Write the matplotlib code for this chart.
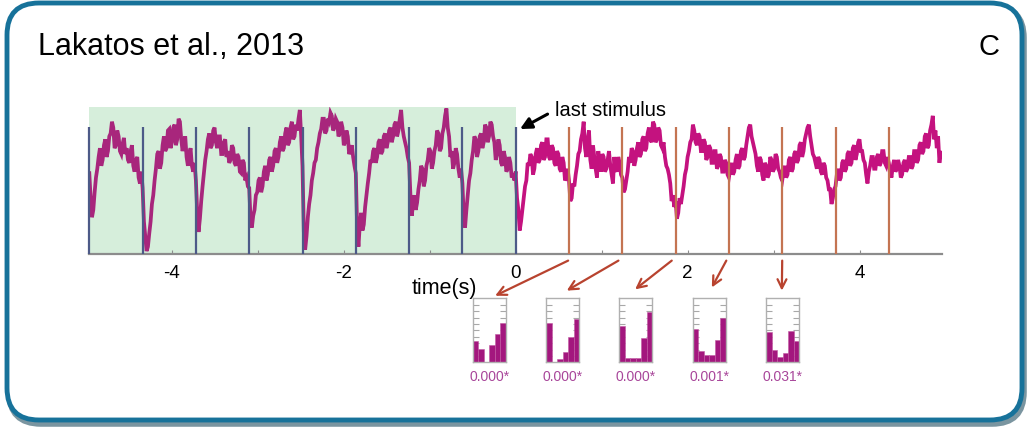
import numpy as np
import matplotlib.pyplot as plt
from matplotlib.patches import FancyBboxPatch, ConnectionPatch

plt.rcParams['font.family'] = ['Liberation Sans', 'DejaVu Sans']

# ---- data ----
t_start, t_end = -4.96, 4.96   # s, visible span
soa = 0.62                     # s between stimuli
n_stim_pre = 9                 # stimuli from -4.96 s up to the last one at 0
n_stim_post = 7                # omitted-stimulus times after 0

# trace before the last stimulus (two rows per stimulus cycle)
trace_pre = [
    0.55, 0.38, 0.25, 0.30, 0.42, 0.52, 0.58, 0.66, 0.72, 0.60, 0.64, 0.74, 0.78, 0.66, 0.70, 0.80, 0.82, 0.90, 0.86, 0.72,
    0.74, 0.84, 0.80, 0.70, 0.68, 0.75, 0.79, 0.68, 0.72, 0.64, 0.62, 0.70, 0.74, 0.60, 0.56, 0.64, 0.66, 0.52, 0.48, 0.56,
    0.45, 0.22, 0.12, 0.02, 0.05, 0.14, 0.22, 0.34, 0.40, 0.50, 0.58, 0.68, 0.70, 0.58, 0.62, 0.74, 0.80, 0.70, 0.72, 0.84,
    0.85, 0.72, 0.76, 0.86, 0.88, 0.74, 0.78, 0.92, 0.90, 0.78, 0.70, 0.76, 0.80, 0.66, 0.60, 0.68, 0.72, 0.60, 0.56, 0.62,
    0.50, 0.28, 0.15, 0.24, 0.36, 0.46, 0.55, 0.64, 0.70, 0.78, 0.82, 0.72, 0.74, 0.84, 0.86, 0.76, 0.72, 0.80, 0.80, 0.68,
    0.68, 0.76, 0.78, 0.66, 0.70, 0.62, 0.64, 0.74, 0.72, 0.62, 0.60, 0.68, 0.66, 0.56, 0.55, 0.64, 0.62, 0.50, 0.52, 0.46,
    0.45, 0.24, 0.18, 0.26, 0.30, 0.40, 0.42, 0.50, 0.52, 0.42, 0.46, 0.56, 0.60, 0.50, 0.54, 0.64, 0.66, 0.56, 0.60, 0.70,
    0.72, 0.62, 0.66, 0.76, 0.80, 0.70, 0.72, 0.82, 0.86, 0.74, 0.76, 0.86, 0.90, 0.78, 0.80, 0.88, 0.84, 0.92, 0.98, 0.80,
    0.60, 0.15, 0.03, 0.12, 0.25, 0.34, 0.40, 0.50, 0.55, 0.62, 0.64, 0.72, 0.76, 0.82, 0.85, 0.92, 0.92, 0.82, 0.84, 0.92,
    0.90, 0.96, 0.94, 0.84, 0.86, 0.92, 0.90, 0.80, 0.82, 0.90, 0.86, 0.74, 0.76, 0.84, 0.80, 0.68, 0.70, 0.74, 0.66, 0.60,
    0.55, 0.18, 0.05, 0.20, 0.28, 0.16, 0.20, 0.32, 0.40, 0.48, 0.55, 0.64, 0.62, 0.70, 0.72, 0.62, 0.66, 0.76, 0.78, 0.68,
    0.70, 0.80, 0.82, 0.72, 0.76, 0.84, 0.86, 0.76, 0.80, 0.88, 0.90, 0.80, 0.84, 0.92, 0.98, 0.86, 0.80, 0.76, 0.72, 0.66,
    0.62, 0.40, 0.26, 0.34, 0.40, 0.30, 0.35, 0.44, 0.50, 0.60, 0.58, 0.46, 0.50, 0.60, 0.64, 0.72, 0.70, 0.58, 0.62, 0.70,
    0.74, 0.84, 0.82, 0.70, 0.72, 0.82, 0.86, 0.94, 0.99, 0.86, 0.80, 0.66, 0.70, 0.58, 0.62, 0.72, 0.68, 0.58, 0.52, 0.58,
    0.48, 0.26, 0.18, 0.30, 0.40, 0.50, 0.55, 0.64, 0.70, 0.80, 0.78, 0.66, 0.70, 0.80, 0.82, 0.72, 0.76, 0.88, 0.86, 0.76,
    0.80, 0.90, 0.88, 0.80, 0.76, 0.64, 0.68, 0.78, 0.74, 0.62, 0.60, 0.70, 0.66, 0.56, 0.58, 0.66, 0.62, 0.52, 0.55, 0.50,
]
# trace after the last stimulus (starts at 0 s)
trace_post = [
    0.55, 0.38, 0.30, 0.16, 0.22, 0.30, 0.38, 0.46, 0.50, 0.62, 0.60, 0.68, 0.66, 0.54, 0.58, 0.68, 0.72, 0.62, 0.64, 0.74,
    0.76, 0.64, 0.66, 0.78, 0.78, 0.66, 0.64, 0.74, 0.72, 0.62, 0.60, 0.70, 0.68, 0.58, 0.56, 0.66, 0.62, 0.50, 0.52, 0.58,
    0.50, 0.36, 0.38, 0.48, 0.46, 0.54, 0.60, 0.68, 0.70, 0.78, 0.82, 0.90, 0.72, 0.66, 0.78, 0.84, 0.64, 0.58, 0.74, 0.66,
    0.58, 0.52, 0.70, 0.62, 0.56, 0.68, 0.66, 0.56, 0.58, 0.64, 0.70, 0.60, 0.54, 0.48, 0.66, 0.58, 0.56, 0.66, 0.62, 0.54,
    0.52, 0.42, 0.44, 0.50, 0.56, 0.66, 0.62, 0.72, 0.70, 0.60, 0.64, 0.72, 0.76, 0.66, 0.68, 0.78, 0.80, 0.70, 0.72, 0.82,
    0.86, 0.78, 0.76, 0.90, 0.88, 0.76, 0.78, 0.86, 0.84, 0.74, 0.72, 0.76, 0.66, 0.60, 0.58, 0.54, 0.48, 0.36, 0.40, 0.32,
    0.36, 0.24, 0.28, 0.38, 0.34, 0.40, 0.46, 0.54, 0.58, 0.66, 0.70, 0.76, 0.78, 0.88, 0.84, 0.76, 0.74, 0.82, 0.80, 0.70,
    0.70, 0.78, 0.76, 0.64, 0.66, 0.74, 0.72, 0.62, 0.62, 0.70, 0.70, 0.58, 0.60, 0.68, 0.66, 0.56, 0.56, 0.64, 0.62, 0.54,
    0.52, 0.58, 0.62, 0.54, 0.56, 0.64, 0.68, 0.58, 0.60, 0.70, 0.72, 0.64, 0.66, 0.74, 0.80, 0.86, 0.88, 0.80, 0.76, 0.72,
    0.68, 0.60, 0.56, 0.66, 0.64, 0.54, 0.50, 0.62, 0.60, 0.52, 0.54, 0.66, 0.64, 0.56, 0.58, 0.68, 0.66, 0.58, 0.56, 0.52,
    0.50, 0.56, 0.60, 0.52, 0.54, 0.64, 0.66, 0.56, 0.58, 0.68, 0.70, 0.62, 0.64, 0.74, 0.76, 0.66, 0.70, 0.78, 0.82, 0.86,
    0.88, 0.80, 0.74, 0.68, 0.66, 0.62, 0.58, 0.66, 0.64, 0.56, 0.54, 0.62, 0.60, 0.52, 0.50, 0.44, 0.44, 0.34, 0.38, 0.44,
    0.46, 0.54, 0.58, 0.50, 0.52, 0.62, 0.64, 0.56, 0.58, 0.68, 0.70, 0.60, 0.62, 0.72, 0.74, 0.64, 0.68, 0.76, 0.78, 0.70,
    0.70, 0.64, 0.62, 0.54, 0.48, 0.56, 0.60, 0.66, 0.66, 0.58, 0.58, 0.66, 0.68, 0.60, 0.62, 0.70, 0.70, 0.62, 0.60, 0.66,
    0.62, 0.56, 0.52, 0.60, 0.64, 0.56, 0.58, 0.64, 0.60, 0.52, 0.54, 0.62, 0.64, 0.56, 0.58, 0.66, 0.66, 0.58, 0.60, 0.70,
    0.70, 0.62, 0.64, 0.74, 0.76, 0.68, 0.70, 0.80, 0.82, 0.72, 0.74, 0.84, 0.88, 0.94, 0.78, 0.84, 0.72, 0.80, 0.62, 0.70,
    0.66,
]

xticks = [-4, -3, -2, -1, 0, 1, 2, 3, 4]
xticklabels = ['-4', '', '-2', '', '0', '', '2', '', '4']

# phase histograms at the first five omitted stimuli
hist_vals = [
    [0.33, 0.21, 0.00, 0.27, 0.45, 0.62],
    [0.61, 0.00, 0.05, 0.16, 0.39, 0.67],
    [0.56, 0.06, 0.06, 0.06, 0.38, 0.78],
    [0.52, 0.17, 0.11, 0.11, 0.35, 0.70],
    [0.48, 0.19, 0.08, 0.15, 0.49, 0.33],
]
p_values = ['0.000*', '0.000*', '0.000*', '0.001*', '0.031*']

# ---- figure ----
W, H = 1030, 431
fig = plt.figure(figsize=(W / 100, H / 100), dpi=100)


def px_rect(x0, y0, x1, y1):
    return [x0 / W, 1 - y1 / H, (x1 - x0) / W, (y1 - y0) / H]


# background layer in pixel coords: rounded frame + titles
bg = fig.add_axes([0, 0, 1, 1])
bg.set_xlim(0, W)
bg.set_ylim(H, 0)
bg.axis('off')
bg.add_patch(FancyBboxPatch((9, 7), 1015, 418, boxstyle='round,pad=0,rounding_size=32',
                            fc='none', ec='#0e3e52', lw=4, alpha=0.55))
bg.add_patch(FancyBboxPatch((7, 4), 1015, 417, boxstyle='round,pad=0,rounding_size=32',
                            fc='white', ec='#17729a', lw=3.5))
bg.text(38, 55, 'Lakatos et al., 2013', fontsize=22, va='baseline')
bg.text(989, 55, 'C', fontsize=21, ha='center', va='baseline')
bg.text(444, 289, 'time(s)', fontsize=15.5, ha='center', va='center')

# main trace
ax = fig.add_axes(px_rect(89.3, 108, 942.1, 255))
ax.set_facecolor('none')
t_pre = np.linspace(t_start, 0, len(trace_pre), endpoint=False)
t_post = np.linspace(0, t_end, len(trace_post))
ax.set_xlim(t_start, t_end)
ax.set_ylim(0, 1)

ax.axvspan(t_start, 0, color='#d6eedb', zorder=0, lw=0)
ax.plot(np.append(t_pre, 0), trace_pre + trace_post[:1], color='#a8267c', lw=2.7,
        solid_joinstyle='miter', zorder=2)
ax.plot(t_post, trace_post, color='#c4127f', lw=2.7, solid_joinstyle='miter', zorder=2)

stim_pre = t_start + np.arange(n_stim_pre) * soa
stim_post = np.arange(1, n_stim_post + 1) * soa
ax.vlines(stim_pre, 0, 0.865, color='#4d5a88', lw=1.6, zorder=3, clip_on=False)
ax.vlines(stim_post, 0, 0.865, color='#c47452', lw=1.6, zorder=3)

for s in ['left', 'top', 'right']:
    ax.spines[s].set_visible(False)
ax.spines['bottom'].set_color('#8c8c8c')
ax.spines['bottom'].set_linewidth(1.6)
ax.set_xticks(xticks)
ax.set_xticklabels(xticklabels)
ax.set_yticks([])
ax.tick_params(axis='x', direction='in', length=3, color='#8c8c8c', labelsize=13.5, pad=7)

ax.annotate('last stimulus', xy=(0.05, 0.85), xytext=(0.46, 0.98), fontsize=14.5,
            ha='left', va='center', annotation_clip=False,
            arrowprops=dict(arrowstyle='-|>', color='black', lw=2.2, mutation_scale=17,
                            relpos=(0, 0.5), shrinkA=4, shrinkB=0))

# histograms
hist_left = [472.7, 546, 619.3, 692.7, 766]
arrow_end = [(0.68, 1.04), (0.63, 1.12), (0.48, 1.14), (0.58, 1.17), (0.48, 1.12)]
arrow_shift = [-0.01, -0.045, -0.045, -0.03, 0.0]
for i, vals in enumerate(hist_vals):
    hax = fig.add_axes(px_rect(hist_left[i], 299.3, hist_left[i] + 33, 363.3))
    hax.bar(np.arange(len(vals)), vals, width=1, align='edge', color='#a3177e',
            edgecolor='#c25aa3', lw=0.4)
    hax.set_xlim(0, len(vals))
    hax.set_ylim(0, 1)
    hax.set_axisbelow(True)
    hax.set_xticks([])
    hax.set_yticks(np.arange(0.1, 1.0, 0.1))
    hax.tick_params(axis='y', left=True, right=True, direction='in', length=4,
                    color='#a8a8a8', labelleft=False)
    for s in hax.spines.values():
        s.set_color('#b0b0b0')
        s.set_linewidth(1)
    hax.text(0.5, -0.21, p_values[i], transform=hax.transAxes, ha='center', va='center',
             fontsize=10, color='#a8469a')
    con = ConnectionPatch(xyA=(stim_post[i] + arrow_shift[i], -0.045), coordsA=ax.transData,
                          xyB=arrow_end[i], coordsB=hax.transAxes, arrowstyle='->',
                          color='#b8432f', lw=1.6, mutation_scale=16)
    fig.add_artist(con)

fig.savefig('out.png', dpi=100, facecolor='white')
